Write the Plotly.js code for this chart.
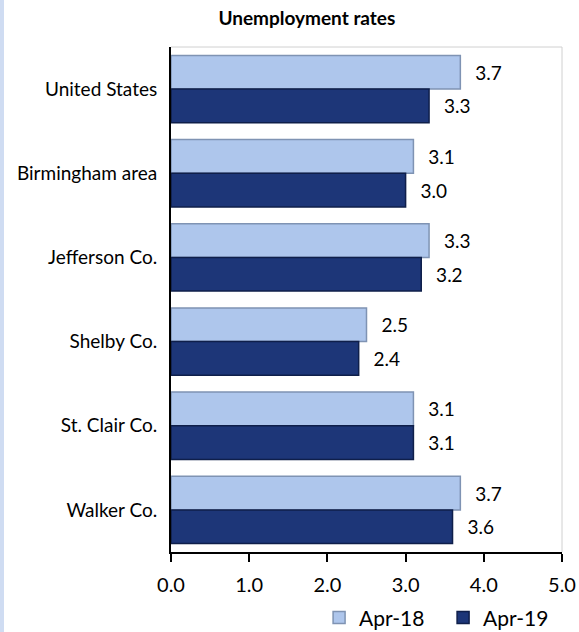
<!DOCTYPE html>
<html>
<head>
<meta charset="utf-8">
<script src="https://cdn.plot.ly/plotly-3.0.1.min.js"></script>
<style>
html,body{margin:0;padding:0;background:#fff;}
#strip{position:absolute;left:0;top:0;width:4px;height:632px;background:#cfdcf2;z-index:5;}
#chart{width:579px;height:632px;}
</style>
</head>
<body>
<div id="strip"></div>
<div id="chart"></div>
<script>
const categories = ["United States", "Birmingham area", "Jefferson Co.", "Shelby Co.", "St. Clair Co.", "Walker Co."];
const apr18 = [3.7, 3.1, 3.3, 2.5, 3.1, 3.7];
const apr19 = [3.3, 3.0, 3.2, 2.4, 3.1, 3.6];
const seriesNames = ["Apr-18", "Apr-19"];
const xTicks = [0, 1, 2, 3, 4, 5];

const FONT = "Lato, 'Open Sans', sans-serif";

function mk(name, vals, fill, edge) {
  return {
    type: "bar", orientation: "h", name: name,
    x: vals, y: categories,
    marker: {color: fill, line: {color: edge, width: 1.5}},
    text: vals.map(v => "\u2002\u2009" + v.toFixed(1)),
    textposition: "outside",
    textfont: {family: FONT, size: 19, color: "#000"},
    cliponaxis: false,
    hoverinfo: "x+y"
  };
}

const data = [
  mk(seriesNames[0], apr18, "#aec6ec", "#7f93b3"),
  mk(seriesNames[1], apr19, "#1d3678", "#0f1f4a")
];

const layout = {
  width: 579, height: 632,
  margin: {l: 171, r: 17, t: 47, b: 80, autoexpand: false},
  paper_bgcolor: "#fff", plot_bgcolor: "#fff",
  font: {family: FONT, color: "#000"},
  title: {text: "<b>Unemployment rates</b>", font: {family: FONT, size: 19, color: "#000"},
          x: 0.53, xanchor: "center", yref: "container", y: 0.982, yanchor: "top"},
  barmode: "group", bargap: 0.2, bargroupgap: 0,
  xaxis: {
    range: [0, 5], tickvals: xTicks, ticktext: xTicks.map(v => v.toFixed(1)),
    showgrid: false, zeroline: false, showline: true, linecolor: "#000", linewidth: 2,
    ticks: "outside", ticklen: 8, tickwidth: 2, tickcolor: "#000", ticklabelstandoff: 6,
    tickfont: {family: FONT, size: 20, color: "#000"}, fixedrange: true, automargin: false
  },
  yaxis: {
    autorange: "reversed", showgrid: false, zeroline: false,
    showline: true, linecolor: "#000", linewidth: 2, ticks: "",
    tickfont: {family: FONT, size: 19, color: "#000"}, ticklabelstandoff: 8, fixedrange: true, automargin: false
  },
  legend: {orientation: "h", x: 1.013, xanchor: "right", yref: "paper", y: -0.09, yanchor: "top",
           font: {family: FONT, size: 21, color: "#000"}, itemwidth: 30, traceorder: "normal",
           entrywidth: 79, entrywidthmode: "pixels"},
  shapes: [
    {type: "line", xref: "paper", yref: "paper", x0: 0, x1: 1, y0: 1, y1: 1, line: {color: "#d0d0d0", width: 1}},
    {type: "line", xref: "paper", yref: "paper", x0: 1, x1: 1, y0: 0, y1: 1, line: {color: "#d0d0d0", width: 1}}
  ],
  showlegend: true
};

Plotly.newPlot("chart", data, layout, {displayModeBar: false, staticPlot: true});
</script>
</body>
</html>
